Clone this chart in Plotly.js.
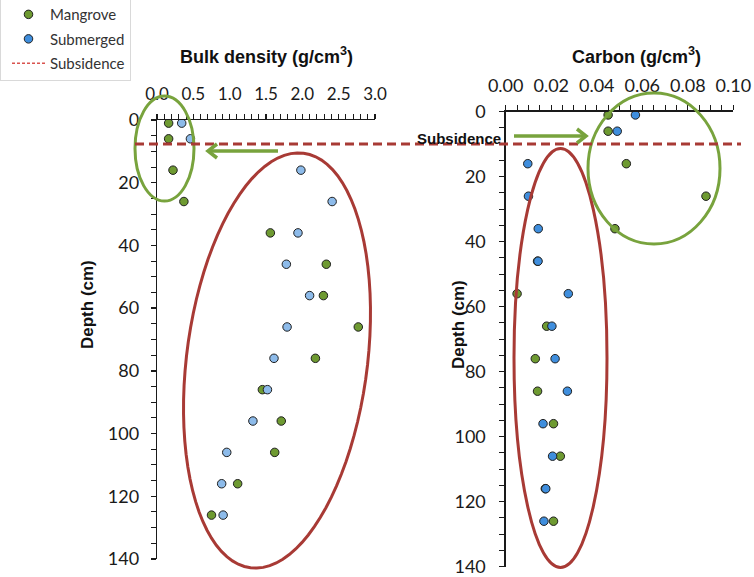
<!DOCTYPE html>
<html>
<head>
<meta charset="utf-8">
<script src="https://cdn.plot.ly/plotly-3.0.1.min.js"></script>
<style>html,body{margin:0;padding:0;background:#fff}#chart{width:754px;height:577px}</style>
</head>
<body>
<div id="chart"></div>
<script>
// ---- Data ----
const depth = [1, 6, 16, 26, 36, 46, 56, 66, 76, 86, 96, 106, 116, 126];
const bulkMangrove  = [0.16, 0.16, 0.22, 0.37, 1.56, 2.33, 2.29, 2.77, 2.18, 1.45, 1.71, 1.62, 1.11, 0.75];
const bulkSubmerged = [0.34, 0.46, 1.98, 2.41, 1.94, 1.78, 2.10, 1.79, 1.61, 1.52, 1.32, 0.96, 0.89, 0.91];
const carbonMangrove  = [0.045, 0.045, 0.053, 0.088, 0.048, 0.014, 0.005, 0.018, 0.013, 0.014, 0.021, 0.024, 0.0174, 0.021];
const carbonSubmerged = [0.057, 0.049, 0.0097, 0.010, 0.0143, 0.0142, 0.0275, 0.0203, 0.0217, 0.0271, 0.0164, 0.0206, 0.0176, 0.0168];
const seriesNames = ['Mangrove', 'Submerged', 'Subsidence'];

// ---- Layout helpers (pixel -> paper) ----
const W = 754, H = 577;
const px = x => x / W;
const py = y => 1 - y / H;

const green = '#6E9A31', blueL = '#8DBBEA', blueR = '#3F8EDD';
const redLine = '#A83A35', greenLine = '#78A33D';
const numFont = 'Lato, "Liberation Sans", Arial, sans-serif';
const boldFont = '"Liberation Sans", Arial, sans-serif';

const mk = (c) => ({size: 8.5, color: c, line: {color: '#1f1f1f', width: 1}});

const traces = [
  {x: bulkMangrove, y: depth, xaxis: 'x', yaxis: 'y', type: 'scatter', mode: 'markers',
   marker: mk(green), name: seriesNames[0], showlegend: false},
  {x: bulkSubmerged, y: depth, xaxis: 'x', yaxis: 'y', type: 'scatter', mode: 'markers',
   marker: mk(blueL), name: seriesNames[1], showlegend: false},
  {x: carbonMangrove, y: depth, xaxis: 'x2', yaxis: 'y2', type: 'scatter', mode: 'markers',
   marker: mk(green), name: seriesNames[0], legendrank: 1, legendgroup: 'g1'},
  {x: carbonSubmerged, y: depth, xaxis: 'x2', yaxis: 'y2', type: 'scatter', mode: 'markers',
   marker: mk(blueR), name: seriesNames[1], legendrank: 2, legendgroup: 'g2'},
  {x: [null], y: [null], xaxis: 'x', yaxis: 'y', type: 'scatter', mode: 'lines',
   line: {color: '#D9534F', width: 1.5, dash: '3px,2px'}, name: seriesNames[2], legendrank: 3, legendgroup: 'g3'}
];

// rotated ellipse path (pixel geometry -> paper)
function ellipsePath(cx, cy, a, b, ux, uy) {
  const vx = -uy, vy = ux;
  let d = '';
  for (let i = 0; i <= 90; i++) {
    const t = i / 90 * 2 * Math.PI;
    const X = cx + a * Math.cos(t) * ux + b * Math.sin(t) * vx;
    const Y = cy + a * Math.cos(t) * uy + b * Math.sin(t) * vy;
    d += (i === 0 ? 'M' : 'L') + px(X).toFixed(5) + ',' + py(Y).toFixed(5);
  }
  return d + 'Z';
}
const ul = Math.hypot(53, 415);

// horizontal arrow with open chevron head (pixel geometry -> paper)
function arrowShapes(x0, x1, y, color) {
  const dir = Math.sign(x1 - x0);
  const hl = 9, hw = 7;
  return [
    {type: 'line', xref: 'paper', yref: 'paper', x0: px(x0), x1: px(x1 - dir * 2), y0: py(y), y1: py(y),
     line: {color: color, width: 3.5}},
    {type: 'path', xref: 'paper', yref: 'paper',
     path: 'M' + px(x1 - dir * hl) + ',' + py(y - hw) + 'L' + px(x1) + ',' + py(y) + 'L' + px(x1 - dir * hl) + ',' + py(y + hw),
     line: {color: color, width: 3.5}}
  ];
}

const tickFont = (s) => ({family: numFont, size: s, color: '#1a1a1a'});
const axisCommon = {showline: true, linecolor: '#1a1a1a', linewidth: 1.3, showgrid: false, zeroline: false,
  ticks: 'outside', ticklen: 5, tickcolor: '#1a1a1a', tickwidth: 1.3, fixedrange: true};

const layout = {
  width: W, height: H,
  margin: {l: 0, r: 0, t: 0, b: 0, autoexpand: false},
  paper_bgcolor: '#ffffff', plot_bgcolor: 'rgba(0,0,0,0)',
  showlegend: true,
  legend: {x: 0, y: 1.005, xanchor: 'left', yanchor: 'top', bgcolor: '#ffffff', bordercolor: '#d9d9d9', borderwidth: 1,
    indentation: 6, tracegroupgap: 2, itemwidth: 33,
    font: {family: numFont, size: 15, color: '#333333'}},
  xaxis: Object.assign({}, axisCommon, {domain: [px(157), px(375)], anchor: 'y', side: 'top', range: [0, 3],
    dtick: 0.5, tick0: 0, tickformat: '.1f', tickfont: tickFont(17), ticklabelstandoff: 7,
    minor: {dtick: 0.1, ticks: 'outside', ticklen: 5, tickcolor: '#1a1a1a', tickwidth: 1}}),
  yaxis: Object.assign({}, axisCommon, {domain: [py(559), py(120)], anchor: 'x', range: [140, 0],
    dtick: 20, tick0: 0, tickfont: tickFont(18), ticklabelstandoff: 8,
    minor: {dtick: 5, ticks: 'outside', ticklen: 5, tickcolor: '#1a1a1a', tickwidth: 1}}),
  xaxis2: Object.assign({}, axisCommon, {domain: [px(505.7), px(733.3)], anchor: 'y2', side: 'top', range: [0, 0.1],
    dtick: 0.02, tick0: 0, tickformat: '.2f', tickfont: tickFont(18), ticklabelstandoff: 6,
    minor: {dtick: 0.005, ticks: 'outside', ticklen: 5, tickcolor: '#1a1a1a', tickwidth: 1}}),
  yaxis2: Object.assign({}, axisCommon, {domain: [py(566.7), py(111.7)], anchor: 'x2', range: [140, 0],
    dtick: 20, tick0: 0, tickfont: tickFont(18), ticklabelstandoff: 10,
    minor: {dtick: 5, ticks: 'outside', ticklen: 5, tickcolor: '#1a1a1a', tickwidth: 1}}),
  shapes: [
    // left green ellipse
    {type: 'circle', xref: 'paper', yref: 'paper', x0: px(135), x1: px(194), y0: py(201), y1: py(96),
     line: {color: greenLine, width: 3}},
    // left red tilted ellipse
    {type: 'path', xref: 'paper', yref: 'paper', path: ellipsePath(277, 360.5, 209, 90.4, 53 / ul, -415 / ul),
     line: {color: redLine, width: 3}},
    // right red ellipse
    {type: 'circle', xref: 'paper', yref: 'paper', x0: px(514), x1: px(607), y0: py(567.5), y1: py(148.5),
     line: {color: redLine, width: 3}},
    // right green ellipse
    {type: 'circle', xref: 'paper', yref: 'paper', x0: px(588), x1: px(720), y0: py(244), y1: py(93),
     line: {color: greenLine, width: 3}},
    // subsidence dashed line
    {type: 'line', xref: 'paper', yref: 'paper', x0: px(135), x1: px(741), y0: py(144), y1: py(144),
     line: {color: redLine, width: 3, dash: '9px,5px'}}
  ].concat(arrowShapes(278, 208, 151, greenLine), arrowShapes(514, 586, 136, greenLine)),
  annotations: [
    {text: '<b>Bulk density (g/cm<sup>3</sup>)</b>', xref: 'paper', yref: 'paper', x: px(266), y: py(56),
     showarrow: false, xanchor: 'center', yanchor: 'middle', font: {family: boldFont, size: 18, color: '#111'}},
    {text: '<b>Carbon (g/cm<sup>3</sup>)</b>', xref: 'paper', yref: 'paper', x: px(636), y: py(56),
     showarrow: false, xanchor: 'center', yanchor: 'middle', font: {family: boldFont, size: 18, color: '#111'}},
    {text: '<b>Depth (cm)</b>', xref: 'paper', yref: 'paper', x: px(87), y: py(305), textangle: -90,
     showarrow: false, xanchor: 'center', yanchor: 'middle', font: {family: boldFont, size: 17, color: '#111'}},
    {text: '<b>Depth (cm)</b>', xref: 'paper', yref: 'paper', x: px(458), y: py(325), textangle: -90,
     showarrow: false, xanchor: 'center', yanchor: 'middle', font: {family: boldFont, size: 17, color: '#111'}},
    {text: '<b>Subsidence</b>', xref: 'paper', yref: 'paper', x: px(458.5), y: py(138),
     showarrow: false, xanchor: 'center', yanchor: 'middle', font: {family: boldFont, size: 15, color: '#111'}}
  ]
};

Plotly.newPlot('chart', traces, layout, {displayModeBar: false, staticPlot: true});
</script>
</body>
</html>
